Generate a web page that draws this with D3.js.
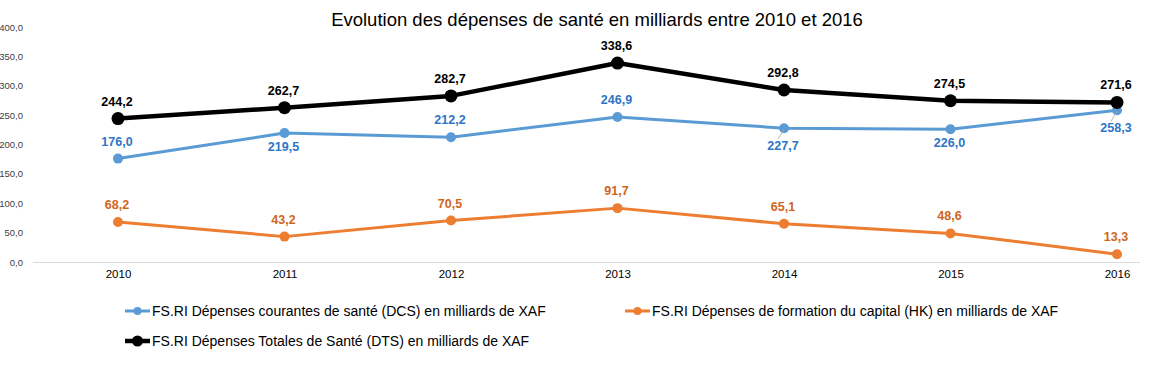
<!DOCTYPE html>
<html><head><meta charset="utf-8">
<script src="https://cdn.jsdelivr.net/npm/d3@7"></script>
<style>body{margin:0;background:#fff;}svg{display:block;font-family:"Liberation Sans",Arial,sans-serif;}</style>
</head><body><svg id="c" width="1152" height="369"></svg>
<script>
const years = ["2010","2011","2012","2013","2014","2015","2016"];
const dcs = [176.0, 219.5, 212.2, 246.9, 227.7, 226.0, 258.3];
const hk = [68.2, 43.2, 70.5, 91.7, 65.1, 48.6, 13.3];
const dts = [244.2, 262.7, 282.7, 338.6, 292.8, 274.5, 271.6];
const yTicks = [0, 50, 100, 150, 200, 250, 300, 350, 400];
const dcsPlace = ["above","below","above","above","leader","below","leader"];
const hkPlace = ["above","above","above","above","above","above","above"];
const dtsPlace = ["above","above","above","above","above","above","above"];
const names = [
  "FS.RI Dépenses courantes de santé (DCS) en milliards de XAF",
  "FS.RI Dépenses de formation du capital (HK) en milliards de XAF",
  "FS.RI Dépenses Totales de Santé (DTS) en milliards de XAF"
];
const fmt = v => d3.format(".1f")(v).replace(".", ",");

const svg = d3.select("#c");
const x = d3.scalePoint().domain(years).range([118, 1117]);
const y = d3.scaleLinear().domain([0, 400]).range([262, 27]);

svg.append("text").attr("x", 597).attr("y", 26).attr("text-anchor","middle")
  .attr("font-size", 18.5).attr("fill","#000").text("Evolution des dépenses de santé en milliards entre 2010 et 2016");

// y axis labels
const yAxis = d3.axisLeft(y).tickValues(yTicks).tickSize(0).tickFormat(fmt);
const ga = svg.append("g").attr("transform","translate(26,0)").call(yAxis);
ga.select(".domain").remove();
ga.selectAll("text").attr("font-size", 9.5).attr("fill","#404040").attr("font-family","Liberation Sans, Arial").attr("dx", 0);

// baseline
svg.append("line").attr("x1",33).attr("x2",1140).attr("y1",y(0)+0.5).attr("y2",y(0)+0.5)
  .attr("stroke","#d9d9d9").attr("stroke-width",1);

// x axis labels
const xAxis = d3.axisBottom(x).tickSize(0).tickPadding(8);
const gx = svg.append("g").attr("transform",`translate(0,${y(0)})`).call(xAxis);
gx.select(".domain").remove();
gx.selectAll("text").attr("font-size", 11.5).attr("fill","#000").attr("font-family","Liberation Sans, Arial");

const series = [
  {vals: dcs, color:"#5B9BD5", lab:"#2E75C6", w:3, r:5, lr:4, place: dcsPlace},
  {vals: hk, color:"#ED7D31", lab:"#D0651C", w:3, r:5, lr:4, place: hkPlace},
  {vals: dts, color:"#000000", lab:"#000000", w:4.5, r:6.5, lr:5.5, place: dtsPlace}
];
const line = d3.line().x((d,i)=>x(years[i])).y(d=>y(d));
series.forEach(s => {
  svg.append("path").datum(s.vals).attr("d", line).attr("fill","none")
    .attr("stroke", s.color).attr("stroke-width", s.w).attr("stroke-linejoin","round").attr("stroke-linecap","round");
  svg.append("g").selectAll("circle").data(s.vals).join("circle")
    .attr("cx",(d,i)=>x(years[i])).attr("cy",d=>y(d)).attr("r",s.r).attr("fill",s.color);
});
series.forEach(s => {
  s.vals.forEach((v,i) => {
    const px = x(years[i]), py = y(v);
    let ty;
    if (s.place[i] === "above") ty = py - 13;
    else if (s.place[i] === "below") ty = py + 18;
    else {
      ty = py + 22;
      svg.append("line").attr("x1", px-6).attr("y1", ty-11).attr("x2", px).attr("y2", py+1)
        .attr("stroke","#a6a6a6").attr("stroke-width",0.8);
    }
    svg.append("text").attr("x", px - 1).attr("y", ty).attr("text-anchor","middle")
      .attr("font-size", 12.5).attr("font-weight","bold").attr("fill", s.lab).text(fmt(v));
  });
});

// legend
const leg = [
  {x:125, y:311, s:series[0]},
  {x:625, y:311, s:series[1]},
  {x:125, y:341, s:series[2]}
];
leg.forEach((l,k) => {
  svg.append("line").attr("x1",l.x).attr("x2",l.x+25).attr("y1",l.y).attr("y2",l.y)
    .attr("stroke",l.s.color).attr("stroke-width",l.s.w);
  svg.append("circle").attr("cx",l.x+12.5).attr("cy",l.y).attr("r",l.s.lr).attr("fill",l.s.color);
  svg.append("text").attr("x",l.x+27).attr("y",l.y+5).attr("font-size",14).attr("fill","#000").text(names[k]);
});
</script></body></html>
